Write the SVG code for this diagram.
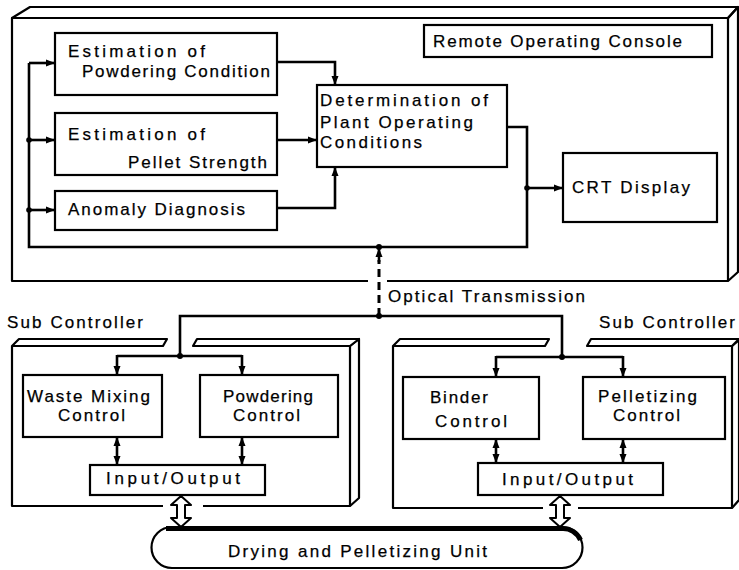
<svg xmlns="http://www.w3.org/2000/svg" width="739" height="570" viewBox="0 0 739 570">
<defs>
<marker id="ah" markerUnits="userSpaceOnUse" markerWidth="10" markerHeight="8" refX="9" refY="4" orient="auto-start-reverse"><path d="M0,0.5 L9,4 L0,7.5 Z" fill="#000"/></marker>
</defs>
<style>
.frame{fill:none;stroke:#000;stroke-width:2.2;stroke-linejoin:round}
.slab{fill:#fff;stroke:#000;stroke-width:2.2;stroke-linejoin:round}
.box{fill:#fff;stroke:#000;stroke-width:2.2}
.ln{fill:none;stroke:#000;stroke-width:2.6}
.ar{fill:none;stroke:#000;stroke-width:2.6;marker-end:url(#ah)}
.bi{fill:none;stroke:#000;stroke-width:2.6;marker-start:url(#ah);marker-end:url(#ah)}
.hollow{fill:#fff;stroke:#000;stroke-width:2;stroke-linejoin:round}
.t{font-family:"Liberation Sans",Arial,sans-serif;font-size:17px;fill:#000;stroke:#000;stroke-width:0.25}
.dot{fill:#000}
</style>
<rect width="739" height="570" fill="#fff"/>

<g id="remote-console">
<path class="frame" d="M12,18 L30,7 L738,7 L728,18 Z"/>
<path class="frame" d="M728,18 L738,7 L738,272 L728,281"/>
<path class="frame" d="M368,281 H12 V18 H728 V281 H387"/>
</g>
<g id="console-label">
<rect class="box" x="424" y="25" width="288" height="32"/>
<text class="t" x="433" y="47" textLength="249" lengthAdjust="spacing">Remote Operating Console</text>
</g>
<g id="est-powdering">
<rect class="box" x="55" y="33" width="222" height="62"/>
<text class="t" x="68" y="57" textLength="137" lengthAdjust="spacing">Estimation of</text>
<text class="t" x="82" y="77" textLength="188" lengthAdjust="spacing">Powdering Condition</text>
</g>
<g id="est-pellet">
<rect class="box" x="55" y="113" width="222" height="62"/>
<text class="t" x="68" y="140" textLength="137" lengthAdjust="spacing">Estimation of</text>
<text class="t" x="128" y="168" textLength="139" lengthAdjust="spacing">Pellet Strength</text>
</g>
<g id="anomaly">
<rect class="box" x="55" y="191" width="222" height="39"/>
<text class="t" x="68" y="215" textLength="177" lengthAdjust="spacing">Anomaly Diagnosis</text>
</g>
<g id="determination">
<rect class="box" x="317" y="85" width="190" height="82"/>
<text class="t" x="320" y="106" textLength="168" lengthAdjust="spacing">Determination of</text>
<text class="t" x="320" y="128" textLength="153" lengthAdjust="spacing">Plant Operating</text>
<text class="t" x="320" y="148" textLength="102" lengthAdjust="spacing">Conditions</text>
</g>
<g id="crt">
<rect class="box" x="563" y="153" width="154" height="69"/>
<text class="t" x="572" y="193" textLength="118" lengthAdjust="spacing">CRT Display</text>
</g>

<g id="sub-controller-left">
<path class="frame" d="M12,346 V506 H163 M203,506 H350 V346"/>
<path class="frame" d="M350,346 L359,339 L359,498 L350,506"/>
<path class="slab" d="M12,346 L19,339 L167,339 L163,346 Z"/>
<path class="slab" d="M193,346 L197,339 L359,339 L350,346 Z"/>
<text class="t" x="7" y="328" textLength="136" lengthAdjust="spacing">Sub Controller</text>
</g>
<g id="waste-mixing">
<rect class="box" x="23" y="375" width="139" height="62"/>
<text class="t" x="27" y="402" textLength="123" lengthAdjust="spacing">Waste Mixing</text>
<text class="t" x="58" y="421" textLength="67" lengthAdjust="spacing">Control</text>
</g>
<g id="powdering-control">
<rect class="box" x="200" y="375" width="138" height="62"/>
<text class="t" x="223" y="402" textLength="90" lengthAdjust="spacing">Powdering</text>
<text class="t" x="233" y="421" textLength="67" lengthAdjust="spacing">Control</text>
</g>
<g id="io-left">
<rect class="box" x="90" y="465" width="175" height="30"/>
<text class="t" x="106" y="484" textLength="134" lengthAdjust="spacing">Input/Output</text>
</g>

<g id="sub-controller-right">
<path class="frame" d="M393,346 V508 H543 M578,508 H732 V346"/>
<path class="frame" d="M732,346 L739,340 L739,500 L732,508"/>
<path class="slab" d="M393,346 L400,339 L549,339 L545,346 Z"/>
<path class="slab" d="M587,346 L591,339 L739,339 L732,346 Z"/>
<text class="t" x="599" y="328" textLength="136" lengthAdjust="spacing">Sub Controller</text>
</g>
<g id="binder">
<rect class="box" x="403" y="377" width="136" height="62"/>
<text class="t" x="430" y="403" textLength="58" lengthAdjust="spacing">Binder</text>
<text class="t" x="435" y="427" textLength="72" lengthAdjust="spacing">Control</text>
</g>
<g id="pelletizing">
<rect class="box" x="583" y="377" width="142" height="62"/>
<text class="t" x="598" y="402" textLength="99" lengthAdjust="spacing">Pelletizing</text>
<text class="t" x="613" y="421" textLength="67" lengthAdjust="spacing">Control</text>
</g>
<g id="io-right">
<rect class="box" x="478" y="463" width="185" height="32"/>
<text class="t" x="502" y="485" textLength="131" lengthAdjust="spacing">Input/Output</text>
</g>

<g id="drying-unit">
<path class="box" d="M172,527 H562 A20.5,20.5 0 0 1 562,568 H172 A20.5,20.5 0 0 1 172,527 Z"/>
<path fill="none" stroke="#000" stroke-width="5" d="M166,528.5 H562 A19,19 0 0 1 580.5,540"/>
<text class="t" x="228" y="557" textLength="259" lengthAdjust="spacing">Drying and Pelletizing Unit</text>
</g>

<g id="connectors">
<path class="ln" d="M29,63 V247 H527 V127 H507"/>
<path class="ar" d="M29,63 H55"/>
<path class="ar" d="M29,140 H55"/>
<path class="ar" d="M29,210 H55"/>
<circle class="dot" cx="29" cy="140" r="2.8"/>
<circle class="dot" cx="29" cy="210" r="2.8"/>
<path class="ar" d="M277,62 H335 V85"/>
<path class="ar" d="M277,140 H317"/>
<path class="ar" d="M277,208 H335 V167"/>
<path class="ar" d="M527,188 H563"/>
<circle class="dot" cx="527" cy="188" r="2.8"/>
<path fill="none" stroke="#000" stroke-width="3" stroke-dasharray="8,5" d="M379,316 V260"/>
<path class="ar" d="M379,262 V248"/>
<circle class="dot" cx="379" cy="247" r="3"/>
<text class="t" x="388" y="302" textLength="197" lengthAdjust="spacing">Optical Transmission</text>
<path class="ln" d="M180,356 V316 H562 V357"/>
<circle class="dot" cx="379" cy="316" r="3"/>
<path class="ln" d="M117,356 H242"/>
<circle class="dot" cx="180" cy="356" r="3"/>
<path class="ar" d="M117,355 V375"/>
<path class="ar" d="M242,355 V375"/>
<path class="ln" d="M496,357 H623"/>
<circle class="dot" cx="562" cy="357" r="3"/>
<path class="ar" d="M496,356 V377"/>
<path class="ar" d="M623,356 V377"/>
<path class="bi" d="M117,437 V465"/>
<path class="bi" d="M242,437 V465"/>
<path class="bi" d="M496,439 V463"/>
<path class="bi" d="M623,439 V463"/>
<path class="hollow" d="M181,496 L191,505 L185,505 L185,518 L191,518 L181,527 L171,518 L177,518 L177,505 L171,505 Z"/>
<path class="hollow" d="M560,496 L570,505 L564,505 L564,518 L570,518 L560,527 L550,518 L556,518 L556,505 L550,505 Z"/>
</g>
</svg>
